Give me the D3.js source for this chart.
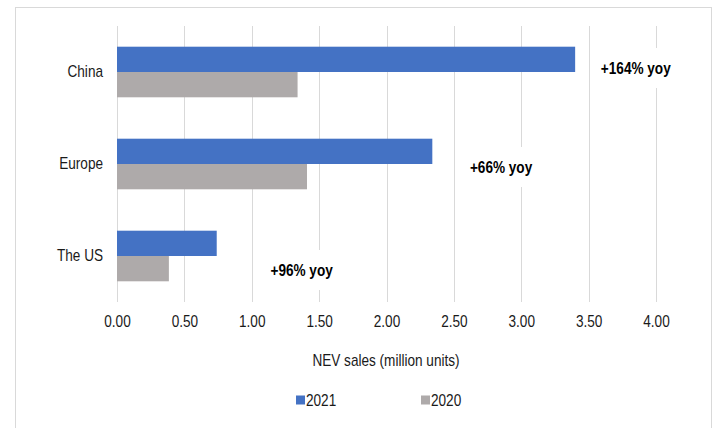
<!DOCTYPE html>
<html>
<head>
<meta charset="utf-8">
<script src="https://cdn.jsdelivr.net/npm/d3@7"></script>
<style>
    body { margin: 0; background: #fff; }
    text { font-family: "Liberation Sans", Arial, sans-serif; }
</style>
</head>
<body>
<div id="graphic"></div>
<script>
// Dati
var regions = ["China", "Europe", "The US"];
var years = ["2021", "2020"];
var sales2021 = [3.40, 2.34, 0.74];
var sales2020 = [1.34, 1.41, 0.385];
var xTicks = [0, 0.5, 1, 1.5, 2, 2.5, 3, 3.5, 4];
var yoyLabels = ["+164% yoy", "+66% yoy", "+96% yoy"];
var yoyX = [3.85, 2.85, 1.37];

var colors = {"2021": "#4472C4", "2020": "#AEAAAA"};
var textColor = '#1a1a1a';
// il testo dell'originale appare compresso in orizzontale
var sx = 0.85;

var W = 718, H = 428;
var margin = {top: 26, right: 62, bottom: 126, left: 117};
var w = W - margin.left - margin.right;
var h = H - margin.top - margin.bottom;

var svg = d3.select('#graphic')
    .append('svg')
    .attr('width', W)
    .attr('height', H);

// bordo esterno
svg.append('rect')
    .attr('x', 15.5)
    .attr('y', 7.5)
    .attr('width', 696)
    .attr('height', 430)
    .attr('fill', 'none')
    .attr('stroke', '#d9d9d9');

var g = svg.append('g')
    .attr('transform', 'translate(' + margin.left + ',' + margin.top + ')');

// Scale
var xScale = d3.scaleLinear()
    .domain([0, 4])
    .range([0, w]);
var yScale = d3.scaleBand()
    .domain(regions)
    .range([0, h])
    .paddingInner(0.45)
    .paddingOuter(0.225);
var ySub = d3.scaleBand()
    .domain(years)
    .range([0, yScale.bandwidth()]);

// griglia
g.selectAll('.grid')
    .data(xTicks)
    .enter()
    .append('line')
    .attr('class', 'grid')
    .attr('x1', function (d) { return Math.round(xScale(d)) + 0.5; })
    .attr('x2', function (d) { return Math.round(xScale(d)) + 0.5; })
    .attr('y1', 0)
    .attr('y2', h)
    .attr('stroke', '#d9d9d9')
    .attr('stroke-width', 1);

// barre
var rows = regions.map(function (r, i) {
    return {region: r, values: [{year: "2021", v: sales2021[i]}, {year: "2020", v: sales2020[i]}]};
});

var groups = g.selectAll('.row')
    .data(rows)
    .enter()
    .append('g')
    .attr('class', 'row')
    .attr('transform', function (d) { return 'translate(0,' + yScale(d.region) + ')'; });

groups.selectAll('rect')
    .data(function (d) { return d.values; })
    .enter()
    .append('rect')
    .attr('x', xScale(0))
    .attr('y', function (d) { return ySub(d.year); })
    .attr('width', function (d) { return xScale(d.v) - xScale(0); })
    .attr('height', ySub.bandwidth())
    .attr('fill', function (d) { return colors[d.year]; });

// asse X
var xAxis = d3.axisBottom(xScale)
    .tickValues(xTicks)
    .tickSize(0)
    .tickPadding(14)
    .tickFormat(d3.format('.2f'));
var xa = g.append('g')
    .attr('transform', 'translate(0,' + h + ')')
    .call(xAxis);
xa.select('.domain').remove();
xa.selectAll('text')
    .attr('font-family', '"Liberation Sans", Arial, sans-serif')
    .attr('font-size', '16px')
    .attr('transform', 'scale(' + sx + ',1)')
    .attr('fill', textColor);

// asse Y
var yAxis = d3.axisLeft(yScale)
    .tickSize(0)
    .tickPadding(14);
var ya = g.append('g').call(yAxis);
ya.select('.domain').remove();
ya.selectAll('text')
    .attr('font-family', '"Liberation Sans", Arial, sans-serif')
    .attr('font-size', '16px')
    .attr('x', -14 / sx)
    .attr('transform', 'scale(' + sx + ',1)')
    .attr('fill', textColor);

// etichette yoy con sfondo bianco
var dyOff = [-4, 3, 14];
var anno = g.selectAll('.anno')
    .data(yoyLabels)
    .enter()
    .append('g')
    .attr('class', 'anno')
    .attr('transform', function (d, i) {
        return 'translate(' + xScale(yoyX[i]) + ',' + (yScale(regions[i]) + yScale.bandwidth() / 2 + dyOff[i]) + ')';
    });
anno.append('rect')
    .attr('fill', '#fff');
anno.append('text')
    .text(function (d) { return d; })
    .attr('text-anchor', 'middle')
    .attr('dy', '0.35em')
    .attr('transform', 'scale(' + sx + ',1)')
    .attr('font-size', '16px')
    .attr('font-weight', 'bold')
    .attr('fill', '#000');
anno.each(function () {
    var bb = d3.select(this).select('text').node().getBBox();
    d3.select(this).select('rect')
        .attr('x', bb.x * sx - 8)
        .attr('y', -20)
        .attr('width', bb.width * sx + 16)
        .attr('height', 40);
});

// titolo asse
svg.append('g')
    .attr('transform', 'translate(386,360)')
    .append('text')
    .attr('dy', '0.35em')
    .attr('text-anchor', 'middle')
    .attr('transform', 'scale(' + sx + ',1)')
    .attr('font-size', '16px')
    .attr('fill', textColor)
    .text('NEV sales (million units)');

// legenda
var legX = [296, 421];
var leg = svg.selectAll('.leg')
    .data(years)
    .enter()
    .append('g')
    .attr('class', 'leg')
    .attr('transform', function (d, i) { return 'translate(' + legX[i] + ',400)'; });
leg.append('rect')
    .attr('x', 0)
    .attr('y', -4.5)
    .attr('width', 9)
    .attr('height', 9)
    .attr('fill', function (d) { return colors[d]; });
leg.append('text')
    .attr('x', 10 / sx)
    .attr('dy', '0.35em')
    .attr('transform', 'scale(' + sx + ',1)')
    .attr('font-size', '16px')
    .attr('fill', textColor)
    .text(function (d) { return d; });
</script>
</body>
</html>
